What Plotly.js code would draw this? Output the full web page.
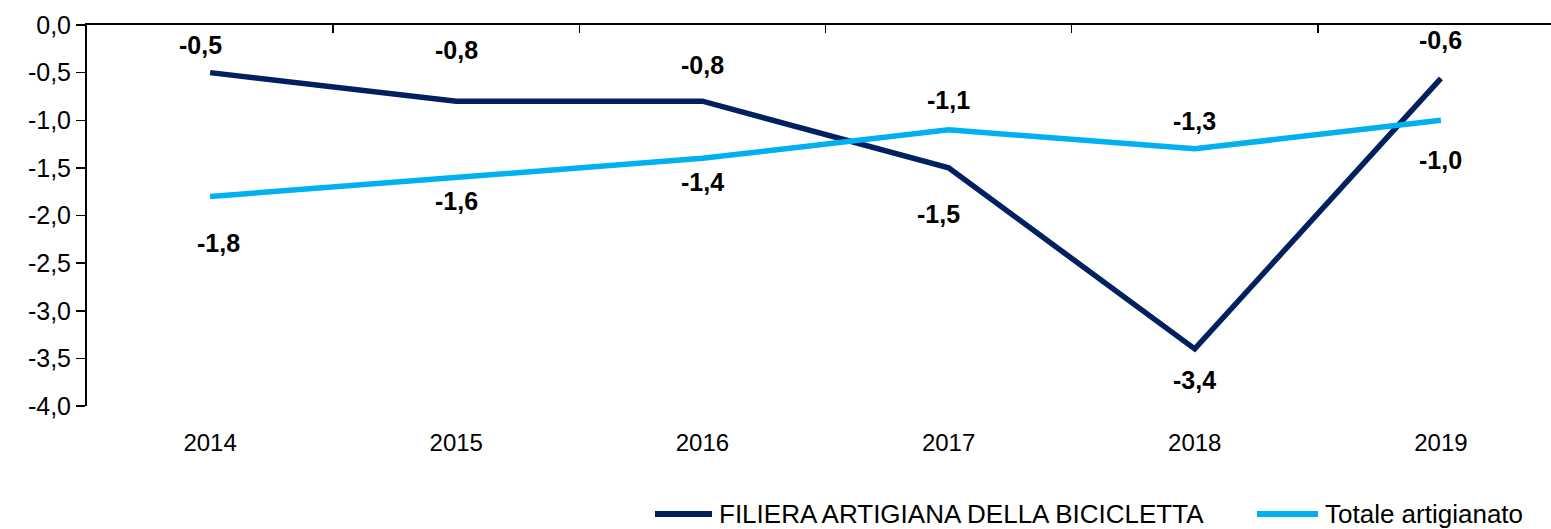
<!DOCTYPE html>
<html>
<head>
<meta charset="utf-8">
<script src="https://cdn.plot.ly/plotly-3.0.1.min.js"></script>
<style>
html,body{margin:0;padding:0;overflow:hidden;background:#fff;}
#chart{width:1570px;height:529px;}
</style>
</head>
<body>
<div id="chart"></div>
<script>
// ---- data ----
const years = ["2014", "2015", "2016", "2017", "2018", "2019"];
const seriesNames = ["FILIERA ARTIGIANA DELLA BICICLETTA", "Totale artigianato"];
const filiera = [-0.5, -0.8, -0.8, -1.5, -3.4, -0.56];
const filieraLabels = ["-0,5", "-0,8", "-0,8", "-1,5", "-3,4", "-0,6"];
const totale = [-1.8, -1.6, -1.4, -1.1, -1.3, -1.0];
const totaleLabels = ["-1,8", "-1,6", "-1,4", "-1,1", "-1,3", "-1,0"];
const yTicks = [0, -0.5, -1, -1.5, -2, -2.5, -3, -3.5, -4];

// ---- styling (label offsets in px) ----
const filieraShift = [[-10, 28], [0, 51], [0, 36], [-10, -46], [0, -31], [0, 38]];
const totaleShift = [[8, -47], [0, -24], [0, -24], [0, 30], [0, 28], [0, -40]];
const colors = ["#002060", "#00B0F0"];
const FONT = "'Liberation Sans Narrow', 'Arial Narrow', 'Liberation Sans', Arial, sans-serif";

const xIdx = years.map((_, i) => i);

const traces = [
  {x: xIdx, y: filiera, type: "scatter", mode: "lines", name: seriesNames[0],
   line: {color: colors[0], width: 5.5}, showlegend: false, hoverinfo: "skip"},
  {x: xIdx, y: totale, type: "scatter", mode: "lines", name: seriesNames[1],
   line: {color: colors[1], width: 5.5}, showlegend: false, hoverinfo: "skip"},
  {x: [-0.5], y: [0], xaxis: "x2", type: "scatter", mode: "markers",
   marker: {opacity: 0}, showlegend: false, hoverinfo: "skip"}
];

const annotations = [];
xIdx.forEach((xi, i) => {
  annotations.push({x: xi, y: filiera[i], xref: "x", yref: "y", text: filieraLabels[i],
    showarrow: false, xshift: filieraShift[i][0], yshift: filieraShift[i][1],
    font: {family: FONT, size: 25, color: "#000", weight: "bold"}});
  annotations.push({x: xi, y: totale[i], xref: "x", yref: "y", text: totaleLabels[i],
    showarrow: false, xshift: totaleShift[i][0], yshift: totaleShift[i][1],
    font: {family: FONT, size: 25, color: "#000", weight: "bold"}});
});

// custom legend (pixel positions)
const legendItems = [
  {x0: 655, x1: 712, tx: 717},
  {x0: 1257, x1: 1318, tx: 1323}
];
const plotL = 87, plotR = 1564, plotT = 25, plotB = 406;
const legendCenterPx = 514;
const yPaper = (plotB - legendCenterPx) / (plotB - plotT);
const shapes = [];
legendItems.forEach((it, k) => {
  shapes.push({type: "line", xref: "paper", yref: "paper",
    x0: (it.x0 - plotL) / (plotR - plotL), x1: (it.x1 - plotL) / (plotR - plotL),
    y0: yPaper, y1: yPaper, line: {color: colors[k], width: 6}, layer: "above"});
  annotations.push({xref: "paper", yref: "paper",
    x: (it.tx - plotL) / (plotR - plotL), y: yPaper, xanchor: "left", yanchor: "middle",
    text: seriesNames[k], showarrow: false,
    font: {family: FONT, size: 26, color: "#000"}});
});

const layout = {
  width: 1570, height: 529,
  margin: {l: plotL, r: 1570 - plotR, t: plotT, b: 529 - plotB},
  paper_bgcolor: "#fff", plot_bgcolor: "#fff",
  font: {family: FONT, size: 22, color: "#000"},
  showlegend: false,
  xaxis: {
    range: [-0.5, 5.5], tickvals: xIdx, ticktext: years,
    showline: false, showgrid: false, zeroline: false,
    ticks: "outside", ticklen: 15, tickcolor: "rgba(0,0,0,0)",
    tickfont: {family: FONT, size: 24, color: "#000"}
  },
  xaxis2: {
    overlaying: "x", side: "top", range: [-0.5, 5.5],
    tickvals: [-0.5, 0.5, 1.5, 2.5, 3.5, 4.5, 5.5],
    showticklabels: false, ticks: "inside", ticklen: 8, tickwidth: 1.5, tickcolor: "#000",
    showline: true, linecolor: "#000", linewidth: 2, showgrid: false, zeroline: false
  },
  yaxis: {
    range: [-4, 0], tickvals: yTicks, ticktext: yTicks.map(v => v.toFixed(1).replace(".", ",")),
    showline: true, linecolor: "#000", linewidth: 2,
    ticks: "outside", ticklen: 9, tickwidth: 1.5, tickcolor: "#000",
    showgrid: false, zeroline: false,
    tickfont: {family: FONT, size: 25, color: "#000"}
  },
  annotations: annotations,
  shapes: shapes
};

Plotly.newPlot("chart", traces, layout, {staticPlot: true});
</script>
</body>
</html>
